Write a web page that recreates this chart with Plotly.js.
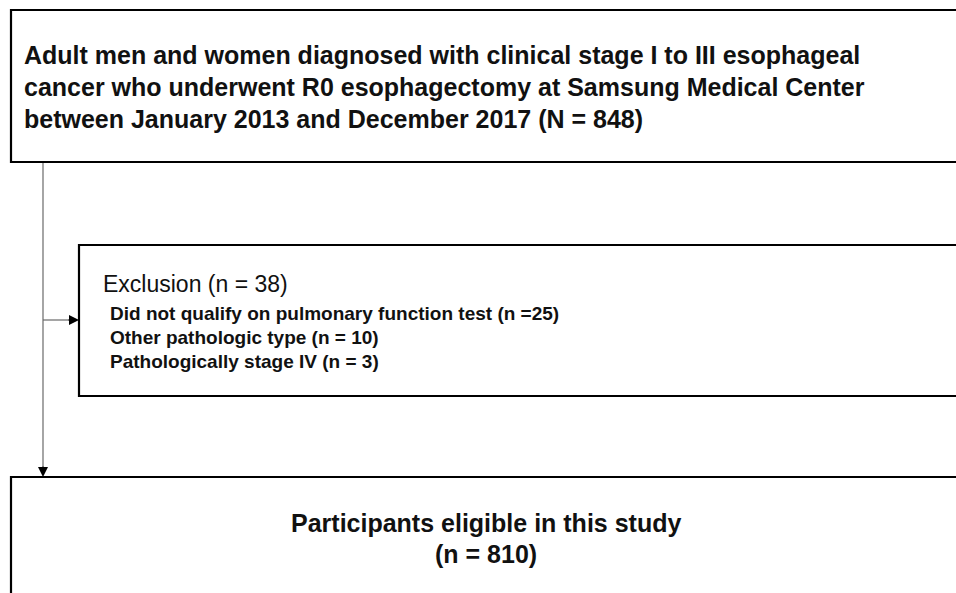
<!DOCTYPE html>
<html>
<head>
<meta charset="utf-8">
<script src="https://cdn.plot.ly/plotly-3.0.1.min.js"></script>
<style>html,body{margin:0;padding:0;background:#fff;}#chart{width:956px;height:593px;}</style>
</head>
<body>
<div id="chart"></div>
<script>
// ---- data ----
const cohortLines = [
  "Adult men and women diagnosed with clinical stage I to III esophageal",
  "cancer who underwent R0 esophagectomy at Samsung Medical Center",
  "between January 2013 and December 2017"
];
const totalN = 848;
const exclusionTitle = "Exclusion";
const exclusionN = 38;
const exclusionReasons = ["Did not qualify on pulmonary function test", "Other pathologic type", "Pathologically stage IV"];
const exclusionCounts = [25, 10, 3];
const exclusionSep = ["(n =", "(n = ", "(n = "];
const eligibleLabel = "Participants eligible in this study";
const eligibleN = 810;

// ---- layout helpers (pixel-like coordinate system) ----
const FONT = "Liberation Sans, Arial, Helvetica, sans-serif";
const ann = [];
function txt(x, y, text, size, bold, anchor) {
  ann.push({
    x: x, y: y, xref: 'x', yref: 'y', showarrow: false,
    text: bold ? '<b>' + text + '</b>' : text,
    xanchor: anchor || 'left', yanchor: 'middle',
    font: {family: FONT, size: size, color: '#111'}
  });
}
// top box text
const topLines = cohortLines.slice();
topLines[2] = topLines[2] + " (N = " + totalN + ")";
topLines.forEach((t, i) => txt(22, 64 + i * 32 - 8.8, t, 25, true));
// exclusion box text
txt(101, 292 - 8, exclusionTitle + " (n = " + exclusionN + ")", 23, false);
exclusionReasons.forEach((r, i) => txt(108, 320 + i * 24 - 7, r + " " + exclusionSep[i] + exclusionCounts[i] + ")", 19, true));
// bottom box text
txt(486, 532 - 8.8, eligibleLabel, 25, true, 'center');
txt(486, 563 - 8.8, "(n = " + eligibleN + ")", 25, true, 'center');

// arrowheads
ann.push({x: 43, y: 477, ax: 43, ay: 465, xref: 'x', yref: 'y', axref: 'x', ayref: 'y',
  showarrow: true, arrowhead: 2, arrowsize: 2, arrowwidth: 1, arrowcolor: '#000', text: ''});
ann.push({x: 79, y: 320, ax: 67, ay: 320, xref: 'x', yref: 'y', axref: 'x', ayref: 'y',
  showarrow: true, arrowhead: 2, arrowsize: 2, arrowwidth: 1, arrowcolor: '#000', text: ''});

const box = (x0, y0, x1, y1) => ({type: 'rect', xref: 'x', yref: 'y', x0, y0, x1, y1,
  line: {color: '#000', width: 2.2}, fillcolor: 'rgba(0,0,0,0)'});
const ln = (x0, y0, x1, y1) => ({type: 'line', xref: 'x', yref: 'y', x0, y0, x1, y1,
  line: {color: '#6a6a6a', width: 1.2}});

const shapes = [
  ln(43, 162, 43, 468),
  ln(43, 320, 70, 320),
  box(11, 10, 970, 162),
  box(79, 245, 970, 396),
  box(11, 477, 970, 620)
];

const layout = {
  width: 956, height: 593,
  margin: {l: 0, r: 0, t: 0, b: 0},
  paper_bgcolor: '#fff', plot_bgcolor: '#fff',
  xaxis: {range: [0, 956], visible: false, fixedrange: true},
  yaxis: {range: [593, 0], visible: false, fixedrange: true},
  showlegend: false,
  shapes: shapes,
  annotations: ann
};
Plotly.newPlot('chart', [{x: [], y: [], type: 'scatter', mode: 'markers'}], layout, {staticPlot: true, displayModeBar: false});
</script>
</body>
</html>
